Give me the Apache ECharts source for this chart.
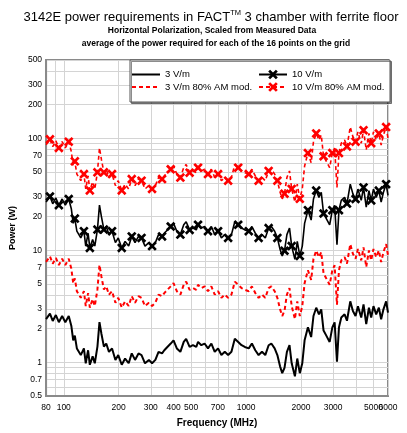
<!DOCTYPE html>
<html>
<head>
<meta charset="utf-8">
<script src="https://cdn.jsdelivr.net/npm/echarts@6/dist/echarts.min.js"></script>
<style>
  html, body { margin: 0; padding: 0; background: #fff; }
  #chart { width: 407px; height: 433px; }
</style>
</head>
<body>
<div id="chart"></div>
<script>
// frequency points (MHz)
const freqMHz = [
  80, 84, 87, 90.5, 94, 98, 102, 106.5, 110, 112.7,
  115, 118, 124, 129, 132, 136, 139, 144, 148, 153,
  157, 161, 166, 171, 177, 184, 192, 199, 208, 217,
  227, 236, 246, 257, 267, 279, 293, 305, 318, 331,
  346, 356, 370, 386, 400, 417, 436, 455, 469, 490,
  511, 533, 545, 568, 592, 618, 645, 673, 702, 732,
  764, 797, 831, 867, 905, 944, 984, 1034, 1076, 1123,
  1171, 1222, 1274, 1329, 1375, 1434, 1484, 1535, 1578, 1624,
  1674, 1730, 1778, 1852, 1908, 1970, 2033, 2093, 2183, 2274,
  2341, 2424, 2509, 2583, 2659, 2753, 2872, 2971, 3058, 3150,
  3230, 3326, 3469, 3574, 3726, 3852, 3983, 4105, 4279, 4405,
  4558, 4716, 4853, 4995, 5168, 5347, 5503, 5664, 5860, 6000
];

// 3 V/m (W)
const power3 = [
  2.43, 2.72, 2.34, 2.64, 2.28, 2.59, 2.28, 2.59, 2.12, 1.57,
  1.73, 1.33, 1.16, 1.33, 0.98, 1.28, 0.95, 1.13, 0.98, 1.38,
  2.28, 1.79, 1.38, 1.47, 1.24, 1.33, 1.05, 1.16, 0.95, 1.08,
  0.98, 1.2, 1.05, 1.2, 1.16, 0.98, 1.05, 0.98, 1.05, 1.24,
  1.2, 1.28, 1.37, 1.47, 1.57, 1.33, 1.24, 1.52, 1.62, 1.37,
  1.42, 1.37, 1.52, 1.42, 1.47, 1.33, 1.47, 1.24, 1.33, 1.16,
  1.24, 1.16, 1.24, 1.62, 1.52, 1.42, 1.37, 1.33, 1.47, 1.28,
  1.16, 1.24, 1.16, 1.42, 1.47, 1.33, 1.16, 0.92, 0.80, 0.89,
  1.24, 1.42, 0.98, 0.75, 1.08, 0.80, 0.98, 1.57, 2.05, 1.68,
  2.59, 3.07, 2.68, 2.97, 1.92, 1.73, 1.52, 2.05, 2.27, 1.01,
  2.05, 2.51, 2.68, 2.35, 3.5, 2.87, 2.59, 3.17, 2.51, 3.28,
  2.19, 3.07, 2.51, 3.17, 2.68, 3.07, 2.42, 2.97, 3.5, 2.78
];

// 10 V/m (W)
const power10 = [
  27.0, 30.2, 26.0, 29.3, 25.3, 28.7, 25.3, 28.7, 23.5, 17.4,
  19.2, 14.8, 12.9, 14.8, 10.9, 14.2, 10.5, 12.5, 10.9, 15.3,
  25.3, 19.9, 15.3, 16.3, 13.8, 14.8, 11.7, 12.9, 10.5, 12.0,
  10.9, 13.3, 11.7, 13.3, 12.9, 10.9, 11.7, 10.9, 11.7, 13.8,
  13.3, 14.2, 15.2, 16.3, 17.4, 14.8, 13.8, 16.9, 18.0, 15.2,
  15.8, 15.2, 16.9, 15.8, 16.3, 14.8, 16.3, 13.8, 14.8, 12.9,
  13.8, 12.9, 13.8, 18.0, 16.9, 15.8, 15.2, 14.8, 16.3, 14.2,
  12.9, 13.8, 12.9, 15.8, 16.3, 14.8, 12.9, 10.2, 8.9, 9.9,
  13.8, 15.8, 10.9, 8.3, 12.0, 8.9, 10.9, 17.4, 22.8, 18.6,
  28.7, 34.1, 29.7, 33.0, 21.3, 19.2, 16.9, 22.8, 25.2, 11.2,
  22.8, 27.9, 29.7, 26.1, 38.9, 31.9, 28.7, 35.2, 27.9, 36.4,
  24.3, 34.1, 27.9, 35.2, 29.7, 34.1, 26.9, 33.0, 38.9, 30.9
];

// 3 V/m 80% AM mod. (W)
const power3AM = [
  7.87, 8.81, 7.58, 8.55, 7.39, 8.39, 7.39, 8.39, 6.87, 5.09,
  5.61, 4.31, 3.76, 4.31, 3.18, 4.15, 3.08, 3.66, 3.18, 4.47,
  7.39, 5.80, 4.47, 4.76, 4.02, 4.31, 3.40, 3.76, 3.08, 3.50,
  3.18, 3.89, 3.40, 3.89, 3.76, 3.18, 3.40, 3.18, 3.40, 4.02,
  3.89, 4.15, 4.44, 4.76, 5.09, 4.31, 4.02, 4.92, 5.25, 4.44,
  4.60, 4.44, 4.92, 4.60, 4.76, 4.31, 4.76, 4.02, 4.31, 3.76,
  4.02, 3.76, 4.02, 5.25, 4.92, 4.60, 4.44, 4.31, 4.76, 4.15,
  3.76, 4.02, 3.76, 4.60, 4.76, 4.31, 3.76, 2.98, 2.59, 2.88,
  4.02, 4.60, 3.18, 2.43, 3.50, 2.59, 3.18, 5.09, 6.64, 5.44,
  8.39, 9.95, 8.68, 9.62, 6.22, 5.61, 4.92, 6.64, 7.35, 3.27,
  6.64, 8.13, 8.68, 7.61, 11.34, 9.30, 8.39, 10.27, 8.13, 10.63,
  7.10, 9.95, 8.13, 10.27, 8.68, 9.95, 7.84, 9.62, 11.34, 9.01
];

// 10 V/m 80% AM mod. (W)
const power10AM = [
  87.5, 97.9, 84.2, 95.0, 82.1, 93.2, 82.1, 93.2, 76.3, 56.5,
  62.3, 47.9, 41.8, 47.9, 35.3, 46.1, 34.2, 40.7, 35.3, 49.7,
  82.1, 64.4, 49.7, 52.9, 44.6, 47.9, 37.8, 41.8, 34.2, 38.9,
  35.3, 43.2, 37.8, 43.2, 41.8, 35.3, 37.8, 35.3, 37.8, 44.6,
  43.2, 46.1, 49.3, 52.9, 56.5, 47.9, 44.6, 54.7, 58.3, 49.3,
  51.1, 49.3, 54.7, 51.1, 52.9, 47.9, 52.9, 44.6, 47.9, 41.8,
  44.6, 41.8, 44.6, 58.3, 54.7, 51.1, 49.3, 47.9, 52.9, 46.1,
  41.8, 44.6, 41.8, 51.1, 52.9, 47.9, 41.8, 33.1, 28.8, 32.0,
  44.6, 51.1, 35.3, 27.0, 38.9, 28.8, 35.3, 56.5, 73.8, 60.5,
  93.2, 110.5, 96.5, 106.9, 69.1, 62.3, 54.7, 73.8, 81.7, 36.4,
  73.8, 90.4, 96.5, 84.6, 126, 103.3, 93.2, 114.1, 90.4, 118.1,
  78.8, 110.5, 90.4, 114.1, 96.5, 110.5, 87.1, 106.9, 126, 100.1
];

const seriesNames = ['3 V/m', '10 V/m', '3 V/m 80% AM mod.', '10 V/m 80% AM mod.'];

// tick labels / grid lines
const xLabelValues = [80, 100, 200, 300, 400, 500, 700, 1000, 2000, 3000, 5000];
const xEndLabel = [6000];
const xGridValues = [80, 90, 100, 200, 300, 400, 500, 600, 700, 800, 900, 1000, 2000, 3000, 4000, 5000, 6000];
const yLabelValues = [0.5, 0.7, 1, 2, 3, 5, 7, 10, 20, 30, 50, 70, 100, 200, 300, 500];
const yGridValues = [0.5, 0.6, 0.7, 0.8, 0.9, 1, 2, 3, 4, 5, 6, 7, 8, 9, 10, 20, 30, 40, 50, 60, 70, 80, 90,
  100, 200, 300, 400, 500];

const FONT = 'Liberation Sans, Arial, sans-serif';
const log = Math.log10;
const unlog = v => String(Number(Math.pow(10, v).toPrecision(3)));
const toPairs = vals => freqMHz.map((f, i) => [log(f), log(vals[i])]);

// cross marker
const xMark = 'path://M2,0 L5,3 L8,0 L10,2 L7,5 L10,8 L8,10 L5,7 L2,10 L0,8 L3,5 L0,2 Z';
const markerSize = (val, params) => (params.dataIndex % 3 === 1 ? 9.5 : 0);

const legendCommon = {
  top: 69.5,
  orient: 'vertical',
  padding: 0,
  itemWidth: 28, itemHeight: 12, itemGap: 2.5,
  selectedMode: false,
  z: 60,
  textStyle: { fontFamily: FONT, fontSize: 9.5, color: '#000' }
};

const xLabelStyle = {
  formatter: unlog,
  fontFamily: FONT,
  fontSize: 8.5,
  color: '#000',
  margin: 7,
  showMinLabel: true,
  hideOverlap: false
};

const chart = echarts.init(document.getElementById('chart'));

const option = {
  animation: false,
  backgroundColor: '#fff',
  grid: {
    left: 44, right: 19, top: 60, bottom: 30,
    show: true,
    borderColor: '#8a8a8a',
    borderWidth: 2
  },
  xAxis: [
    {
      type: 'value',
      min: log(80),
      max: log(6000),
      name: 'Frequency (MHz)',
      nameLocation: 'middle',
      nameGap: 22,
      nameTextStyle: { fontFamily: FONT, fontWeight: 'bold', fontSize: 10, color: '#000' },
      axisLine: { show: true, onZero: false, lineStyle: { color: '#8a8a8a', width: 2 } },
      axisTick: { show: false, customValues: xGridValues.map(log) },
      axisLabel: Object.assign({ customValues: xLabelValues.map(log) }, xLabelStyle),
      splitLine: { show: true, lineStyle: { color: '#d4d4d4', width: 1 } }
    },
    {
      // only carries the 6000 label, which overlaps 5000 in the original
      type: 'value',
      position: 'bottom',
      min: log(80),
      max: log(6000),
      axisLine: { show: false, onZero: false },
      axisTick: { show: false },
      splitLine: { show: false },
      axisLabel: Object.assign({ customValues: xEndLabel.map(log), showMaxLabel: true }, xLabelStyle)
    }
  ],
  yAxis: {
    type: 'value',
    min: log(0.5),
    max: log(500),
    name: 'Power (W)',
    nameLocation: 'middle',
    nameGap: 27,
    nameTextStyle: { fontFamily: FONT, fontWeight: 'bold', fontSize: 9, color: '#000' },
    axisLine: { show: true, onZero: false, lineStyle: { color: '#8a8a8a', width: 2 } },
    axisTick: { show: false, customValues: yGridValues.map(log) },
    axisLabel: {
      customValues: yLabelValues.map(log),
      formatter: unlog,
      fontFamily: FONT,
      fontSize: 8.5,
      color: '#000',
      margin: 4,
      showMinLabel: true,
      showMaxLabel: true,
      hideOverlap: false
    },
    splitLine: { show: true, lineStyle: { color: '#d4d4d4', width: 1 } }
  },
  legend: [
    Object.assign({}, legendCommon, {
      left: 131,
      data: [
        { name: seriesNames[0], itemStyle: { opacity: 0 } },
        { name: seriesNames[2], itemStyle: { opacity: 0 } }
      ]
    }),
    Object.assign({}, legendCommon, {
      left: 258,
      data: [seriesNames[1], seriesNames[3]]
    })
  ],
  graphic: [
    {
      type: 'text', x: 211, y: 17, z: 60,
      style: {
        text: '{a|3142E power requirements in FACT}{b|TM}{a| 3 chamber with ferrite floor}',
        align: 'center', verticalAlign: 'middle',
        rich: {
          a: { fontFamily: FONT, fontSize: 13, fill: '#000', lineHeight: 16 },
          b: { fontFamily: FONT, fontSize: 7.5, fill: '#000', verticalAlign: 'top', lineHeight: 16 }
        }
      }
    },
    {
      type: 'text', x: 212, y: 31, z: 60,
      style: {
        text: 'Horizontal Polarization, Scaled from Measured Data',
        align: 'center', verticalAlign: 'middle',
        font: 'bold 8.5px ' + FONT, fill: '#000'
      }
    },
    {
      type: 'text', x: 216, y: 43.5, z: 60,
      style: {
        text: 'average of the power required for each of the 16 points on the grid',
        align: 'center', verticalAlign: 'middle',
        font: 'bold 8.5px ' + FONT, fill: '#000'
      }
    },
    {
      type: 'rect', z: 50,
      shape: { x: 130, y: 60, width: 260, height: 42 },
      style: {
        fill: '#fff', stroke: '#555', lineWidth: 1,
        shadowColor: 'rgba(0,0,0,0.45)', shadowOffsetX: 1.5, shadowOffsetY: 1.5, shadowBlur: 0
      }
    }
  ],
  series: [
    {
      name: seriesNames[0],
      type: 'line',
      data: toPairs(power3),
      symbol: 'none',
      silent: true,
      lineStyle: { color: '#000', width: 2 },
      itemStyle: { color: '#000' }
    },
    {
      name: seriesNames[1],
      type: 'line',
      data: toPairs(power10),
      symbol: xMark,
      symbolSize: markerSize,
      showAllSymbol: true,
      silent: true,
      lineStyle: { color: '#000', width: 1.6 },
      itemStyle: { color: '#000' }
    },
    {
      name: seriesNames[2],
      type: 'line',
      data: toPairs(power3AM),
      symbol: 'none',
      silent: true,
      lineStyle: { color: '#ff0000', width: 2, type: [4, 3] },
      itemStyle: { color: '#ff0000' }
    },
    {
      name: seriesNames[3],
      type: 'line',
      data: toPairs(power10AM),
      symbol: xMark,
      symbolSize: markerSize,
      showAllSymbol: true,
      silent: true,
      lineStyle: { color: '#ff0000', width: 1.6, type: [4, 3] },
      itemStyle: { color: '#ff0000' }
    }
  ]
};

chart.setOption(option);
</script>
</body>
</html>
